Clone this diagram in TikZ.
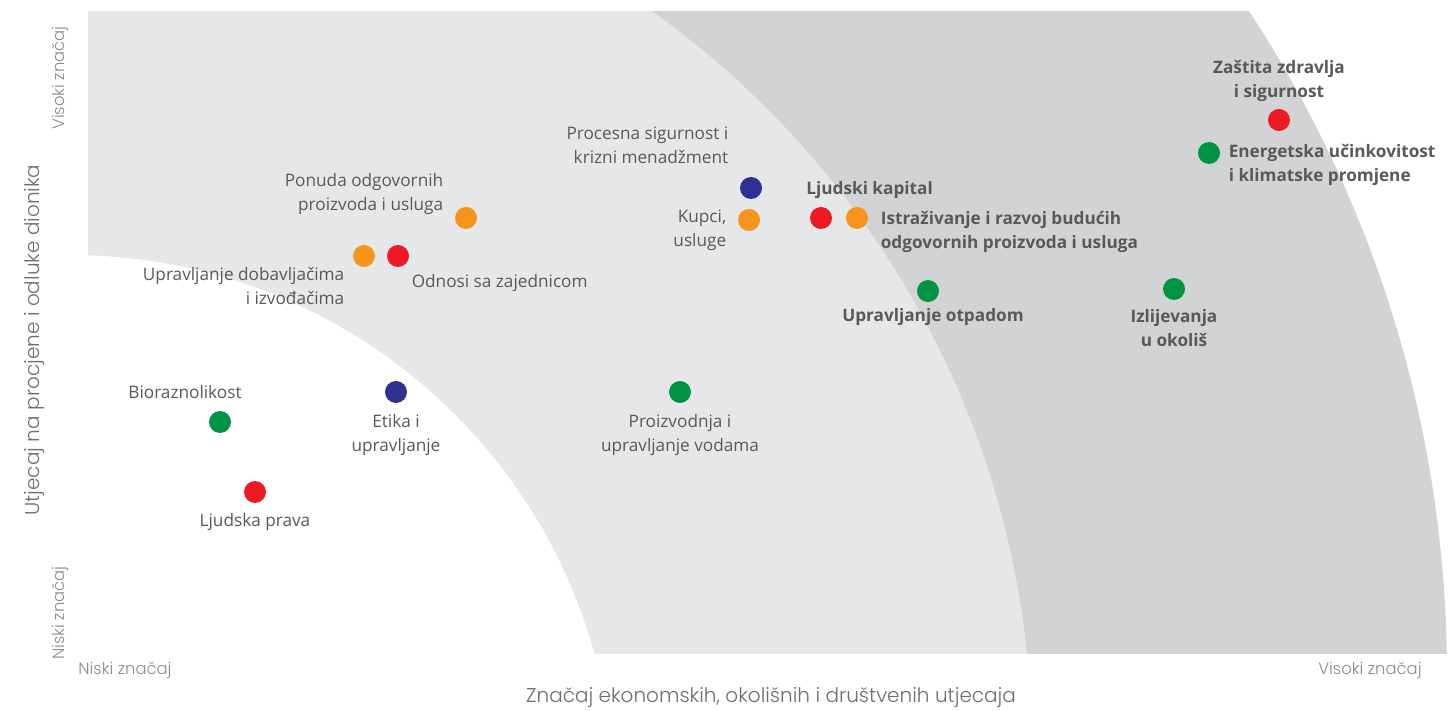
\documentclass[tikz,border=0pt]{standalone}
\usepackage{fontspec}
\setmainfont{Open Sans}
\newfontfamily\axisfont{Poppins Light}
\usetikzlibrary{calc,positioning}

\definecolor{dotred}{HTML}{ED1C24}
\definecolor{dotgreen}{HTML}{009444}
\definecolor{dotorange}{HTML}{F7941D}
\definecolor{dotblue}{HTML}{2E3192}
\definecolor{zonelight}{HTML}{E6E7E8}
\definecolor{zonedark}{HTML}{D1D3D4}
\definecolor{txtgray}{HTML}{58595B}
\definecolor{axisgray}{HTML}{6D6E71}

\tikzset{
  dot/.style={circle, fill=#1, minimum size=11pt, inner sep=0pt},
  lbl/.style={font=\fontsize{8.6}{12}\selectfont, text=txtgray, inner sep=0pt, align=center},
  boldlbl/.style={lbl, font=\fontsize{8.6}{12}\selectfont\bfseries},
  axislbl/.style={font=\axisfont\fontsize{10}{12}\selectfont, text=axisgray, inner sep=0pt},
  scalelbl/.style={font=\axisfont\fontsize{8.2}{10}\selectfont, text=axisgray!80, inner sep=0pt}
}

\begin{document}
\begin{tikzpicture}[x=0.5pt,y=-0.5pt]
\useasboundingbox (0,0) rectangle (1452,711);

\begin{scope}
\clip (88,12) rectangle (1447,653);
\fill[zonedark] (236,675) circle (605.5pt);
\fill[zonelight] (126,749) circle (453pt);
\fill[white] (70,799) circle (272pt);
\end{scope}

\def\topics{zastita/1279/120/dotred, energija/1209/153/dotgreen,
  izlijevanja/1174/289/dotgreen, otpad/928/291/dotgreen,
  kapital/821/218/dotred, istrazivanje/857/218/dotorange,
  procesna/751/188/dotblue, kupci/749/220/dotorange,
  ponuda/466/218/dotorange, dobavljaci/364/256/dotorange,
  zajednica/398/256/dotred, etika/396/392/dotblue,
  vode/680/392/dotgreen, bioraz/220/422/dotgreen,
  prava/255/492/dotred}
\foreach \n/\x/\y/\c in \topics
  \node[dot=\c] (\n) at (\x,\y) {};

\node[boldlbl, above=3.5pt of zastita] (zastitatxt) {Zaštita zdravlja\\ i sigurnost};
\node[boldlbl, align=left, right=4pt of energija, yshift=-6pt] (energijatxt) {Energetska učinkovitost\\ i klimatske promjene};
\node[boldlbl, below=4.5pt of izlijevanja] (izlijevanjatxt) {Izlijevanja\\ u okoliš};
\node[boldlbl, below=3pt of otpad, xshift=2.5pt] (otpadtxt) {Upravljanje otpadom};
\node[boldlbl, above=4pt of kapital, anchor=south west, xshift=-7.5pt] (kapitaltxt) {Ljudski kapital};
\node[boldlbl, align=left, right=6pt of istrazivanje, yshift=-7pt] (istrazivanjetxt) {Istraživanje i razvoj budućih\\ odgovornih proizvoda i usluga};

\node[lbl, align=right, left=5.5pt of procesna, yshift=21.5pt] (procesnatxt) {Procesna sigurnost i\\ krizni menadžment};
\node[lbl, align=right, left=5.5pt of kupci, yshift=-5pt] (kupcitxt) {Kupci,\\ usluge};
\node[lbl, align=right, left=5.5pt of ponuda, yshift=12pt] (ponudatxt) {Ponuda odgovornih\\ proizvoda i usluga};
\node[lbl, align=right, left=4pt of dobavljaci, yshift=-15pt] (dobavljacitxt) {Upravljanje dobavljačima\\ i izvođačima};
\node[lbl, right=1pt of zajednica, yshift=-13.5pt] (zajednicatxt) {Odnosi sa zajednicom};
\node[lbl, below=5.3pt of etika] (etikatxt) {Etika i\\ upravljanje};
\node[lbl, below=5.3pt of vode] (vodetxt) {Proizvodnja i\\ upravljanje vodama};
\node[lbl, above=5.7pt of bioraz, xshift=-17.5pt] (biorazTxt) {Bioraznolikost};
\node[lbl, below=4.8pt of prava] (pravatxt) {Ljudska prava};

\node[axislbl] (xaxis) at (771,698) {Značaj ekonomskih, okolišnih i društvenih utjecaja};
\node[axislbl, rotate=90] (yaxis) at (35,340) {Utjecaj na procjene i odluke dionika};
\node[scalelbl] (xlow) at (125,670) {Niski značaj};
\node[scalelbl] (xhigh) at (1370,670) {Visoki značaj};
\node[scalelbl, rotate=90] (ylow) at (60,613) {Niski značaj};
\node[scalelbl, rotate=90] (yhigh) at (60,78) {Visoki značaj};

\end{tikzpicture}
\end{document}
